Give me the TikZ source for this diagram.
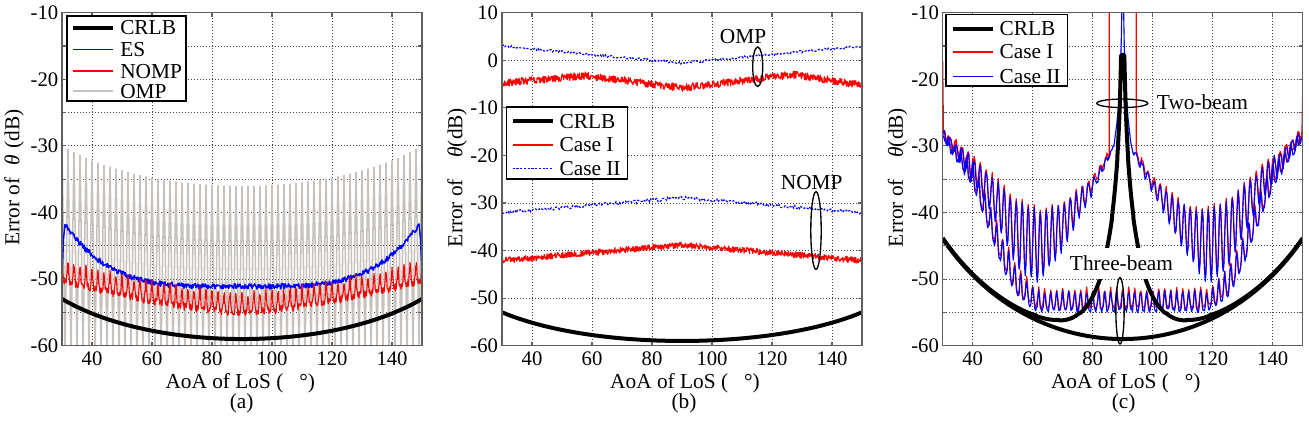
\documentclass[tikz,border=0pt]{standalone}
\usepackage{fontspec}
\setmainfont{Liberation Serif}
\newfontfamily\tnr{Liberation Serif}
\definecolor{ompgray}{RGB}{198,193,188}
\definecolor{axgray}{RGB}{95,95,95}
\tikzset{
  gridline/.style={black!75, line width=0.7pt, dash pattern=on 0.7pt off 1.55pt},
  axbox/.style={draw=axgray, line width=0.85pt},
  tickmark/.style={axgray, line width=0.85pt},
  crlbline/.style={black, line width=3pt, line join=round},
  redline/.style={red, line width=0.85pt, line join=round},
  blueline/.style={blue, line width=0.85pt, line join=round},
  bluedash/.style={blue, line width=0.9pt, dash pattern=on 1.6pt off 1.2pt},
  graycurve/.style={ompgray, line width=1.15pt},
  ticklab/.style={font=\tnr\fontsize{15.5}{18}\selectfont, inner sep=0pt},
  lab/.style={font=\tnr\fontsize{16}{19}\selectfont, inner sep=0pt},
  legbox/.style={draw=black, line width=0.8pt, fill=white},
  marker/.style={black, line width=1pt},
}
\begin{document}
\begin{tikzpicture}[x=0.75pt,y=-0.75pt,
  declare function={
    spk(\u)=(1+cos(180*(\u-90)))*(1+cos(180*(\u-90)))/4;
    spkc(\u)=spk(\u)*spk(\u);
    mtwo(\q)=-30.25-0.821*(\q-3)+0.196*max(\q-10,0)+0.256*max(\q-20,0)+0.612*max(\q-28,0)+0.457*max(\q-35,0)-0.153*max(\q-45,0);
    atwo(\q)=0.25+0.107*(\q-3)+0.118*max(\q-10,0)+0.044*max(\q-20,0)-0.326*max(\q-28,0)-0.193*max(\q-35,0)+0.117*max(\q-45,0);
    twob(\u)=(abs(\u-90)<3) ? (-30.25+20*log10(3/abs(\u-90))) : (mtwo(abs(\u-90))+atwo(abs(\u-90))*sin(180*(\u-90)));
    bthree(\q)=-54.7+0.3*max(\q-28,0)+0.6*max(\q-35,0)+0.3*max(\q-40,0)-0.48*max(\q-50,0);
    hthree(\q)=2.8+0.24*max(\q-30,0)-0.24*max(\q-35,0)-0.25*max(\q-48,0);
    ompr(\u)=-4.8+0.0571*(\u-30)-0.1384*max(\u-58,0)+0.157*max(\u-90,0)-0.1714*max(\u-127,0);
    ftwo(\u)=-59-50*log10(sin(\u))+10*log10(abs(cos(\u))*abs(cos(\u))*abs(cos(\u))+0.01607)-30*log10(abs(cos(\u)));
  }]
\pgfmathsetseed{7}
\useasboundingbox (0,0) rectangle (1309,422);

% ================= Panel (a) =================
\begin{scope}[shift={(-21pt,40.425pt)}, x=2.25pt, y=4.995pt]
  \foreach \gx in {40,60,...,140} \draw[gridline] (\gx,-60) -- (\gx,-10);
  \foreach \gy in {-55,-50,...,-15} \draw[gridline] (30,\gy) -- (150,\gy);
  \begin{scope}
    \clip (30,-60) rectangle (150,-10);
    \draw[graycurve] plot[domain=30:150, samples=121] (\x,{(mod(round(\x),2)==0) ? (-36-20*log10(sin(\x))) : (-61)});
    \draw[blueline, line width=1.1pt] (30,-49.8) -- (30.5,-44) -- plot[domain=31:149, samples=593] (\x,{-51.1+8.6*((abs(\x-90)+0.01)/58)^4+0.4*rand}) -- (149.5,-44) -- (150,-49);
    \draw[redline] plot[domain=30:150, samples=961] (\x,{-55+4.8*((abs(\x-90)+0.01)/60)^1.5+2.8*spkc(\x)+0.55*rand});
    \draw[crlbline] plot[domain=30:150, samples=121] (\x,{-59-20*log10(sin(\x))});
  \end{scope}
  \draw[axbox] (30,-60) rectangle (150,-10);
  \foreach \gx in {40,60,...,140} {
    \draw[tickmark] (\gx,-60) -- ++(0pt,3pt);
    \draw[tickmark] (\gx,-10) -- ++(0pt,-3pt);
    \node[ticklab, anchor=base] (xa\gx) at ([yshift=-15.2pt]\gx,-60) {\gx};
  }
  \foreach \gy in {-55,-50,...,-15} {
    \draw[tickmark] (30,\gy) -- ++(3pt,0pt);
    \draw[tickmark] (150,\gy) -- ++(-3pt,0pt);
  }
  \foreach \gy in {-10,-20,...,-60}
    \node[ticklab, anchor=east] (ya\gy) at ([xshift=-2.6pt]30,\gy) {\gy};
\end{scope}

% legend (a)
\draw[legbox] (67,16) rectangle (186,101);
\draw[crlbline] (73,27.7) -- (113,27.7);
\draw[blueline, line width=1.1pt] (73,49.5) -- (113,49.5);
\draw[redline, line width=1.1pt] (73,71) -- (113,71);
\draw[graycurve, line width=1.3pt] (73,91.3) -- (113,91.3);
\node[lab, anchor=west] (legA1) at (120,27.7) {CRLB};
\node[lab, anchor=west] (legA2) at (120,49.7) {ES};
\node[lab, anchor=west] (legA3) at (120,71.3) {NOMP};
\node[lab, anchor=west] (legA4) at (120,91.3) {OMP};

\node[lab, anchor=base] (xlabA) at (240.3,388.5) {AoA of LoS (\hspace{12pt}°)};
\node[lab, rotate=90] (ylabA) at (14.2,177.5) {Error of\hspace{0.55em}{\itshape θ}\hspace{0.3em}(dB)};
\node[lab, anchor=base] (capA) at (241.7,408.5) {(a)};

% ================= Panel (b) =================
\begin{scope}[shift={(309pt,-45.2pt)}, x=2.25pt, y=3.568pt]
  \foreach \gx in {40,60,...,140} \draw[gridline] (\gx,-60) -- (\gx,10);
  \foreach \gy in {0,-10,...,-50} \draw[gridline] (30,\gy) -- (150,\gy);
  \begin{scope}
    \clip (30,-60) rectangle (150,10);
    \draw[bluedash] plot[domain=30:150, samples=301] (\x,{-0.6+0.06*abs(\x-90)+0.25*rand});
    \draw[redline] plot[domain=30:150, samples=801] (\x,{ompr(\x)+0.8*rand});
    \draw[bluedash] plot[domain=30:150, samples=301] (\x,{-28.9-0.052*abs(\x-90)+0.35*rand});
    \draw[redline] plot[domain=30:150, samples=801] (\x,{-38.8-0.055*abs(\x-90)+0.65*rand});
    \draw[crlbline] plot[domain=30:150, samples=121] (\x,{-59-20*log10(sin(\x))});
  \end{scope}
  \draw[axbox] (30,-60) rectangle (150,10);
  \foreach \gx in {40,60,...,140} {
    \draw[tickmark] (\gx,-60) -- ++(0pt,3pt);
    \draw[tickmark] (\gx,10) -- ++(0pt,-3pt);
    \node[ticklab, anchor=base] (xb\gx) at ([yshift=-15.2pt]\gx,-60) {\gx};
  }
  \foreach \gy in {0,-10,...,-50} {
    \draw[tickmark] (30,\gy) -- ++(3pt,0pt);
    \draw[tickmark] (150,\gy) -- ++(-3pt,0pt);
  }
  \foreach \gy in {10,0,...,-60}
    \node[ticklab, anchor=east] (yb\gy) at ([xshift=-2.8pt]30,\gy) {\gy};
\end{scope}

% legend (b)
\draw[legbox] (506.7,107) rectangle (627.7,179);
\draw[crlbline] (512.7,121.3) -- (552.7,121.3);
\draw[redline, line width=1.1pt] (512.7,145) -- (552.7,145);
\draw[bluedash, line width=1.1pt] (512.7,168.7) -- (552.7,168.7);
\node[lab, anchor=west] (legB1) at (559.3,121.3) {CRLB};
\node[lab, anchor=west] (legB2) at (559.3,145) {Case I};
\node[lab, anchor=west] (legB3) at (559.3,168.7) {Case II};

\draw[marker] (757.7,66.7) ellipse [x radius=3.75pt, y radius=14.8pt];
\node[lab] (ompB) at (743,37) {OMP};
\draw[marker] (816,230.5) ellipse [x radius=3.9pt, y radius=29.1pt];
\node[lab] (nompB) at (811.7,183) {NOMP};

\node[lab, anchor=base] (xlabB) at (685,388.5) {AoA of LoS (\hspace{12pt}°)};
\node[lab, rotate=90] (ylabB) at (457.2,177.5) {Error of\hspace{1em}{\itshape θ}(dB)};
\node[lab, anchor=base] (capB) at (684,408.5) {(b)};

% ================= Panel (c) =================
\begin{scope}[shift={(639.525pt,40.425pt)}, x=2.25pt, y=4.995pt]
  \foreach \gx in {40,60,...,140} \draw[gridline] (\gx,-60) -- (\gx,-10);
  \foreach \gy in {-55,-50,...,-15} \draw[gridline] (30,\gy) -- (150,\gy);
  \begin{scope}
    \clip (30,-60) rectangle (150,-10);
    % Case I (red)
    \draw[redline] (30,-17.3) -- plot[domain=30.25:149.75, samples=479] (\x,{0.4+bthree(abs(\x-90))+hthree(abs(\x-90))*spk(\x)+0.35*rand}) -- (150,-21.5);
    \draw[redline] plot[domain=30.25:85.5, samples=222] (\x,{0.4+mtwo(abs(\x-90))+atwo(abs(\x-90))*sin(180*(\x-90))+0.35*rand}) -- (85.5,-5);
    \draw[redline] (94.5,-5) -- plot[domain=94.5:149.75, samples=222] (\x,{0.4+mtwo(abs(\x-90))+atwo(abs(\x-90))*sin(180*(\x-90))+0.35*rand});
    % Case II (blue)
    \draw[blueline] plot[domain=30.25:149.75, samples=479] (\x,{bthree(abs(\x-90))+hthree(abs(\x-90))*spk(\x)+0.35*rand});
    \draw[blueline] plot[domain=30.25:89.75, samples=239] (\x,{twob(\x)+0.35*rand});
    \draw[blueline] plot[domain=90.25:149.75, samples=239] (\x,{twob(\x)+0.35*rand});
    % CRLB
    \draw[crlbline] plot[domain=30:150, samples=121] (\x,{-59-50*log10(sin(\x))});
    \draw[crlbline] plot[domain=30:86, samples=113] (\x,{ftwo(\x)})
       -- plot[domain=86.05:89.45, samples=69] (\x,{ftwo(\x)})
       -- (90,-16.3)
       -- plot[domain=90.55:93.95, samples=69] (\x,{ftwo(\x)})
       -- plot[domain=94:150, samples=113] (\x,{ftwo(\x)});
  \end{scope}
  \draw[axbox] (30,-60) rectangle (150,-10);
  \foreach \gx in {40,60,...,140} {
    \draw[tickmark] (\gx,-60) -- ++(0pt,3pt);
    \draw[tickmark] (\gx,-10) -- ++(0pt,-3pt);
    \node[ticklab, anchor=base] (xc\gx) at ([yshift=-15.2pt]\gx,-60) {\gx};
  }
  \foreach \gy in {-55,-50,...,-15} {
    \draw[tickmark] (30,\gy) -- ++(3pt,0pt);
    \draw[tickmark] (150,\gy) -- ++(-3pt,0pt);
  }
  \foreach \gy in {-10,-20,...,-60}
    \node[ticklab, anchor=east] (yc\gy) at ([xshift=-2.7pt]30,\gy) {\gy};
\end{scope}

% annotations (c)
\node[lab, fill=white, inner xsep=1pt, inner ysep=6pt] (threeC) at (1121.5,263.3) {Three-beam};
\draw[marker] (1120,310.8) ellipse [x radius=3.1pt, y radius=24.9pt];
\draw[marker] (1122.3,103.3) ellipse [x radius=19.1pt, y radius=3.2pt];
\node[lab, anchor=west] (twoC) at (1156.7,102.5) {Two-beam};

% legend (c)
\draw[legbox] (946,14.3) rectangle (1067.7,86);
\draw[crlbline] (952.7,28.7) -- (992.7,28.7);
\draw[redline, line width=1.1pt] (952.7,52) -- (992.7,52);
\draw[blueline, line width=1.1pt] (952.7,76.3) -- (992.7,76.3);
\node[lab, anchor=west] (legC1) at (999.3,28.7) {CRLB};
\node[lab, anchor=west] (legC2) at (999.3,52) {Case I};
\node[lab, anchor=west] (legC3) at (999.3,76.3) {Case II};

\node[lab, anchor=base] (xlabC) at (1125.8,388.5) {AoA of LoS (\hspace{12pt}°)};
\node[lab, rotate=90] (ylabC) at (897.5,177.5) {Error of\hspace{1em}{\itshape θ}(dB)};
\node[lab, anchor=base] (capC) at (1123.7,408.5) {(c)};
\end{tikzpicture}
\end{document}
